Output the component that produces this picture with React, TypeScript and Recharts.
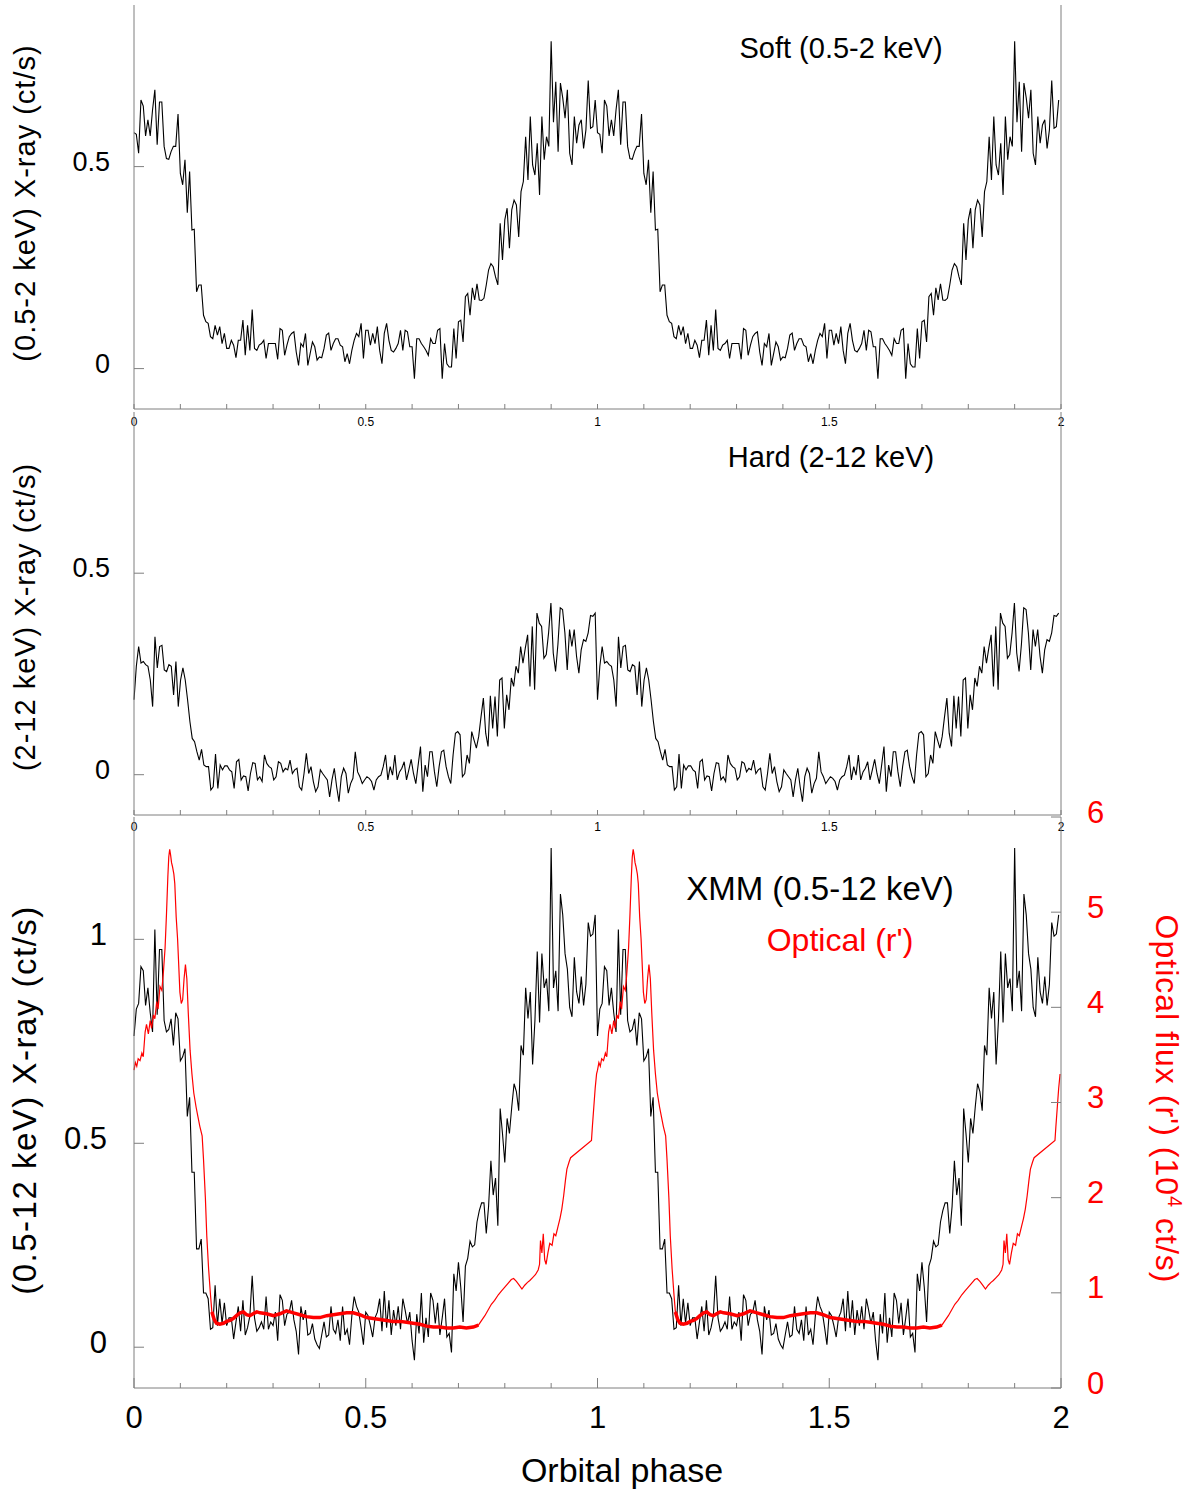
import React from "react";
import { LineChart, Line, XAxis, YAxis } from "recharts";

// orbital phase axis
const PHASE_TICKS = [0, 0.1, 0.2, 0.3, 0.4, 0.5, 0.6, 0.7, 0.8, 0.9, 1, 1.1, 1.2, 1.3, 1.4, 1.5, 1.6, 1.7, 1.8, 1.9, 2];
const PHASE_LABELS = [0, 0.5, 1, 1.5, 2];
const RATE_TICKS = [0, 0.5];
const XMM_TICKS = [0, 0.5, 1];
const OPT_TICKS = [0, 1, 2, 3, 4, 5, 6];

// one orbital cycle, evenly binned (ct/s)
const SOFT = [
  0.584, 0.58, 0.533, 0.665, 0.65, 0.576, 0.616, 0.576, 0.64, 0.69,
  0.554, 0.66, 0.66, 0.55, 0.52, 0.518, 0.537, 0.55, 0.55, 0.63,
  0.483, 0.455, 0.517, 0.386, 0.488, 0.343, 0.345, 0.19, 0.207, 0.207,
  0.132, 0.116, 0.112, 0.079, 0.074, 0.107, 0.083, 0.104, 0.062, 0.087,
  0.05, 0.05, 0.07, 0.058, 0.027, 0.07, 0.07, 0.12, 0.033, 0.107,
  0.045, 0.146, 0.05, 0.045, 0.058, 0.062, 0.07, 0.025, 0.062, 0.062,
  0.062, 0.062, 0.023, 0.099, 0.095, 0.033, 0.058, 0.079, 0.087, 0.091,
  0.041, 0.008, 0.062, 0.054, 0.087, 0.008, 0.037, 0.066, 0.054, 0.021,
  0.029, 0.027, 0.05, 0.083, 0.088, 0.045, 0.062, 0.074, 0.074, 0.058,
  0.054, 0.017, 0.037, 0.012, 0.045, 0.07, 0.087, 0.079, 0.112, 0.025,
  0.095, 0.095, 0.058, 0.087, 0.062, 0.104, 0.045, 0.012, 0.087, 0.112,
  0.07, 0.045, 0.041, 0.05, 0.062, 0.095, 0.045, 0.095, 0.091, 0.054,
  0.054, -0.025, 0.074, 0.074, 0.062, 0.054, 0.045, 0.033, 0.074, 0.062,
  0.062, 0.095, 0.099, -0.025, 0.062, 0.012, 0.004, 0.004, 0.099, 0.025,
  0.116, 0.12, 0.066, 0.178, 0.186, 0.132, 0.2, 0.17, 0.21, 0.17,
  0.169, 0.174, 0.207, 0.244, 0.26, 0.252, 0.227, 0.207, 0.36, 0.269,
  0.368, 0.397, 0.298, 0.393, 0.417, 0.405, 0.326, 0.438, 0.463, 0.574,
  0.467, 0.624, 0.504, 0.479, 0.558, 0.43, 0.624, 0.517, 0.574, 0.55,
  0.81, 0.61, 0.71, 0.537, 0.707, 0.67, 0.62, 0.69, 0.533, 0.504,
  0.624, 0.558, 0.603, 0.616, 0.545, 0.591, 0.713, 0.595, 0.599, 0.665,
];

const HARD = [
  0.186, 0.269, 0.318, 0.277, 0.281, 0.273, 0.269, 0.235, 0.169, 0.342,
  0.265, 0.318, 0.321, 0.26, 0.256, 0.273, 0.269, 0.198, 0.281, 0.169,
  0.235, 0.265, 0.235, 0.186, 0.132, 0.09, 0.082, 0.057, 0.036, 0.063,
  0.024, 0.02, 0.02, -0.038, -0.03, 0.051, -0.034, 0.024, 0.012, 0.022,
  0.022, 0.012, 0.007, -0.034, 0.032, 0.038, -0.013, -0.003, -0.005, -0.04,
  0.003, 0.03, 0.028, -0.013, -0.005, -0.017, 0.049, 0.028, 0.02, 0.016,
  -0.013, -0.005, 0.032, 0.028, 0.007, 0.016, 0.012, 0.036, 0.003, 0.012,
  0.016, -0.03, -0.038, 0.003, 0.053, 0.003, 0.02, -0.017, -0.042, -0.03,
  0.012, 0.003, -0.005, -0.013, -0.055, -0.013, 0.016, -0.03, -0.067, -0.005,
  0.016, 0.003, -0.046, -0.022, -0.009, 0.057, 0.007, -0.005, -0.022, -0.013,
  -0.005, -0.009, -0.017, -0.038, -0.013, -0.005, -0.001, 0.02, 0.049, -0.013,
  0.02, -0.001, 0.049, -0.013, 0.007, 0.016, 0.032, -0.013, 0.012, 0.038,
  0.003, -0.022, 0.024, 0.07, -0.042, 0.024, -0.005, 0.057, 0.057, 0.007,
  -0.03, 0.02, 0.057, 0.061, 0.02, -0.005, -0.022, 0.049, 0.103, 0.107,
  0.099, -0.005, 0.003, 0.049, 0.028, 0.107, 0.086, 0.066, 0.095, 0.144,
  0.19, 0.103, 0.07, 0.196, 0.115, 0.194, 0.095, 0.235, 0.24, 0.115,
  0.198, 0.161, 0.24, 0.219, 0.269, 0.252, 0.318, 0.277, 0.314, 0.347,
  0.219, 0.368, 0.211, 0.401, 0.376, 0.368, 0.289, 0.298, 0.352, 0.426,
  0.302, 0.256, 0.323, 0.414, 0.41, 0.352, 0.26, 0.36, 0.318, 0.36,
  0.294, 0.252, 0.31, 0.335, 0.331, 0.352, 0.395, 0.393, 0.401,
];

const XMM = [
  0.763, 0.829, 0.843, 0.933, 0.923, 0.838, 0.881, 0.82, 0.773, 1.024,
  0.815, 0.975, 0.975, 0.801, 0.773, 0.779, 0.805, 0.74, 0.82, 0.805,
  0.702, 0.712, 0.732, 0.566, 0.613, 0.429, 0.429, 0.241, 0.241, 0.265,
  0.133, 0.133, 0.119, 0.044, 0.048, 0.152, 0.053, 0.119, 0.058, 0.109,
  0.053, 0.072, 0.072, 0.02, 0.062, 0.1, 0.039, 0.115, 0.03, 0.048,
  0.077, 0.175, 0.072, 0.039, 0.048, 0.062, 0.044, 0.124, 0.044, 0.062,
  0.053, 0.086, 0.016, 0.129, 0.115, 0.053, 0.081, 0.086, 0.115, 0.067,
  0.039, -0.018, 0.1, 0.067, 0.091, 0.03, 0.034, 0.058, 0.02, 0.006,
  -0.003, 0.03, 0.062, 0.025, 0.03, 0.1, 0.044, 0.034, 0.067, 0.016,
  0.1, 0.03, 0.044, 0.006, 0.077, 0.124, 0.1, 0.086, 0.048, 0.006,
  0.086, 0.077, 0.053, 0.025, 0.072, 0.086, 0.119, 0.039, 0.138, 0.048,
  0.115, 0.03, 0.091, 0.053, 0.1, 0.044, 0.119, 0.091, 0.058, 0.086,
  0.016, -0.032, 0.081, 0.034, 0.133, 0.011, 0.072, 0.025, 0.133, 0.115,
  0.058, 0.109, 0.03, 0.072, 0.119, 0.025, 0.034, -0.013, 0.18, 0.138,
  0.208, 0.147, 0.062, 0.199, 0.218, 0.26, 0.246, 0.251, 0.307, 0.335,
  0.354, 0.354, 0.279, 0.345, 0.457, 0.373, 0.415, 0.298, 0.585, 0.524,
  0.453, 0.561, 0.524, 0.589, 0.646, 0.627, 0.58, 0.74, 0.716, 0.881,
  0.806, 0.871, 0.693, 0.801, 0.97, 0.796, 0.965, 0.881, 0.904, 0.824,
  1.224, 0.881, 0.923, 0.824, 1.111, 1.06, 0.965, 0.927, 0.833, 0.81,
  0.956, 0.871, 0.843, 0.909, 0.838, 0.89, 1.041, 1.008, 1.013, 1.06,
];

// optical r' light curve, one cycle (10^4 ct/s)
const OPT_PHASE = [
  0.0, 0.003, 0.006, 0.009, 0.013, 0.017, 0.02, 0.024, 0.027, 0.031,
  0.035, 0.038, 0.042, 0.045, 0.049, 0.052, 0.056, 0.06, 0.063, 0.067,
  0.07, 0.073, 0.075, 0.077, 0.079, 0.081, 0.083, 0.086, 0.088, 0.091,
  0.094, 0.096, 0.099, 0.102, 0.105, 0.108, 0.111, 0.114, 0.117, 0.121,
  0.125, 0.129, 0.134, 0.138, 0.142, 0.147, 0.15, 0.154, 0.157, 0.161,
  0.165, 0.168, 0.173, 0.178, 0.185, 0.193, 0.2, 0.207, 0.214, 0.221,
  0.229, 0.236, 0.243, 0.25, 0.257, 0.265, 0.272, 0.286, 0.301, 0.315,
  0.329, 0.344, 0.358, 0.372, 0.387, 0.401, 0.416, 0.43, 0.444, 0.459,
  0.473, 0.487, 0.502, 0.516, 0.531, 0.545, 0.559, 0.574, 0.588, 0.602,
  0.617, 0.631, 0.646, 0.66, 0.674, 0.689, 0.703, 0.717, 0.732, 0.743,
  0.75, 0.757, 0.764, 0.771, 0.778, 0.786, 0.793, 0.8, 0.807, 0.814,
  0.819, 0.825, 0.831, 0.837, 0.843, 0.849, 0.854, 0.86, 0.866, 0.872,
  0.875, 0.877, 0.88, 0.883, 0.886, 0.889, 0.893, 0.897, 0.902, 0.906,
  0.91, 0.915, 0.919, 0.923, 0.927, 0.931, 0.934, 0.939, 0.942, 0.987,
  0.989, 0.992, 0.995, 0.998,
];
const OPT_FLUX = [
  3.34, 3.42, 3.38, 3.46, 3.44, 3.52, 3.48, 3.74, 3.82, 3.72,
  3.86, 3.78, 3.92, 3.88, 4.06, 3.98, 4.22, 4.18, 4.34, 4.62,
  4.97, 5.37, 5.58, 5.66, 5.6, 5.52, 5.48, 5.4, 5.3, 4.95,
  4.72, 4.5, 4.16, 4.04, 4.08, 4.3, 4.45, 4.3, 3.95, 3.55,
  3.3, 3.1, 2.95, 2.85, 2.75, 2.65, 2.4, 2.0, 1.6, 1.25,
  0.98, 0.8, 0.72, 0.68, 0.67, 0.68, 0.7, 0.71, 0.73, 0.76,
  0.79, 0.8, 0.77, 0.76, 0.78, 0.8, 0.79, 0.78, 0.76, 0.78,
  0.81, 0.79, 0.77, 0.75, 0.74, 0.74, 0.76, 0.77, 0.78, 0.79,
  0.79, 0.77, 0.74, 0.73, 0.72, 0.71, 0.7, 0.7, 0.69, 0.68,
  0.67, 0.65, 0.64, 0.64, 0.63, 0.63, 0.64, 0.63, 0.64, 0.66,
  0.71, 0.76, 0.82, 0.88, 0.92, 0.98, 1.02, 1.06, 1.1, 1.14,
  1.15, 1.12, 1.08, 1.04, 1.08, 1.11, 1.13, 1.16, 1.19, 1.24,
  1.3, 1.55, 1.42, 1.62, 1.35, 1.3, 1.42, 1.52, 1.5, 1.62,
  1.6, 1.7, 1.78, 1.88, 2.02, 2.19, 2.3, 2.38, 2.42, 2.6,
  2.75, 2.95, 3.15, 3.3,
];

const FRAME = "#7f7f7f";
const RED = "#ff0000";
const FONT = '"Liberation Sans", Arial, Helvetica, sans-serif';

// the folded light curve is plotted twice, phase 0-2
function twoCycles(vals: number[]) {
  const n = vals.length;
  const rows: { phase: number; v: number }[] = [];
  for (let c = 0; c < 2; c++) vals.forEach((v, i) => rows.push({ phase: c + i / n, v }));
  return rows;
}

function opticalRows() {
  const rows: { phase: number; flux: number; band: number | null }[] = [];
  for (let c = 0; c < 2; c++)
    OPT_PHASE.forEach((p, i) =>
      rows.push({ phase: c + p, flux: OPT_FLUX[i], band: p >= 0.168 && p <= 0.743 ? OPT_FLUX[i] : null })
    );
  return rows;
}

const softData = twoCycles(SOFT);
const hardData = twoCycles(HARD);
const xmmData = twoCycles(XMM);
const optData = opticalRows();

// x ticks point into the plot; labels only at 0, 0.5, 1 ...
const xTick = (dir: number, major: number, minor: number, labelDy: number, labelSize: number) => (props: any) => {
  const { x, y, payload } = props;
  const lab = PHASE_LABELS.includes(payload.value);
  return (
    <g>
      <line x1={x} x2={x} y1={y} y2={y + dir * (lab ? major : minor)} stroke={FRAME} />
      {labelSize > 0 && lab ? (
        <text x={x} y={y + labelDy} textAnchor="middle" dominantBaseline="central" fontSize={labelSize} fontFamily={FONT} fill="#000">
          {payload.value}
        </text>
      ) : null}
    </g>
  );
};

const yTick = (side: "left" | "right", size: number, color: string, gap: number) => (props: any) => {
  const { x, y, payload } = props;
  const dir = side === "left" ? 1 : -1;
  return (
    <g>
      <line x1={x} x2={x + dir * 10} y1={y} y2={y} stroke={FRAME} />
      {size > 0 ? (
        <text
          x={x - dir * gap}
          y={y - 5}
          textAnchor={side === "left" ? "end" : "start"}
          dominantBaseline="central"
          fontSize={size}
          fontFamily={FONT}
          fill={color}
        >
          {payload.value}
        </text>
      ) : null}
    </g>
  );
};

const axisBase = { axisLine: { stroke: FRAME }, tickLine: false, tickSize: 0, tickMargin: 0, interval: 0 as const };

const Label = ({ x, y, size, color = "#000", rotate = 0, spacing = 0, children }: any) => (
  <div
    style={{
      position: "absolute",
      left: x,
      top: y,
      transform: `translate(-50%, -50%) rotate(${rotate}deg)`,
      fontSize: size,
      letterSpacing: spacing,
      color,
      whiteSpace: "nowrap",
      lineHeight: 1,
      fontFamily: FONT,
    }}
  >
    {children}
  </div>
);

const App = () => {
  return (
    <div style={{ position: "absolute", left: 0, top: 0, width: 1200, height: 1498, background: "#fff", fontFamily: FONT }}>
      {/* soft band */}
      <div style={{ position: "absolute", left: 0, top: 0 }}>
        <LineChart width={1200} height={440} margin={{ top: 5, right: 0, bottom: 0, left: 0 }}>
          <XAxis dataKey="phase" type="number" domain={[0, 2]} ticks={PHASE_TICKS} height={31} {...axisBase} tick={xTick(-1, 5, 5, 13, 12)} />
          <XAxis xAxisId="t" orientation="top" type="number" domain={[0, 2]} ticks={PHASE_TICKS} height={0} {...axisBase} tick={xTick(1, 5, 5, 0, 0)} />
          <YAxis type="number" domain={[-0.1, 0.9]} ticks={RATE_TICKS} width={134} {...axisBase} tick={yTick("left", 27, "#000", 24)} />
          <YAxis yAxisId="r" orientation="right" type="number" domain={[-0.1, 0.9]} ticks={RATE_TICKS} width={139} {...axisBase} tick={yTick("right", 0, "#000", 0)} />
          <Line data={softData} dataKey="v" type="linear" stroke="#000" strokeWidth={1.1} dot={false} activeDot={false} isAnimationActive={false} />
        </LineChart>
      </div>

      {/* hard band */}
      <div style={{ position: "absolute", left: 0, top: 400 }}>
        <LineChart width={1200} height={445} margin={{ top: 12, right: 0, bottom: 0, left: 0 }}>
          <XAxis dataKey="phase" type="number" domain={[0, 2]} ticks={PHASE_TICKS} height={30} {...axisBase} tick={xTick(-1, 5, 5, 12, 12)} />
          <XAxis xAxisId="t" orientation="top" type="number" domain={[0, 2]} ticks={PHASE_TICKS} height={0} {...axisBase} tick={xTick(1, 5, 5, 0, 0)} />
          <YAxis type="number" domain={[-0.1, 0.9]} ticks={RATE_TICKS} width={134} {...axisBase} tick={yTick("left", 27, "#000", 24)} />
          <YAxis yAxisId="r" orientation="right" type="number" domain={[-0.1, 0.9]} ticks={RATE_TICKS} width={139} {...axisBase} tick={yTick("right", 0, "#000", 0)} />
          <Line data={hardData} dataKey="v" type="linear" stroke="#000" strokeWidth={1.1} dot={false} activeDot={false} isAnimationActive={false} />
        </LineChart>
      </div>

      {/* XMM full band + optical */}
      <div style={{ position: "absolute", left: 0, top: 780 }}>
        <LineChart width={1200} height={718} margin={{ top: 37, right: 0, bottom: 0, left: 0 }}>
          <XAxis dataKey="phase" type="number" domain={[0, 2]} ticks={PHASE_TICKS} height={110} {...axisBase} tick={xTick(-1, 10, 5, 29, 31)} />
          <XAxis xAxisId="t" orientation="top" type="number" domain={[0, 2]} ticks={PHASE_TICKS} height={0} {...axisBase} tick={xTick(1, 5, 5, 0, 0)} />
          <YAxis type="number" domain={[-0.1, 1.3]} ticks={XMM_TICKS} width={134} {...axisBase} tick={yTick("left", 31, "#000", 27)} />
          <YAxis yAxisId="r" orientation="right" type="number" domain={[0, 6]} ticks={OPT_TICKS} width={139} {...axisBase} tick={yTick("right", 31, RED, 26)} />
          <Line data={xmmData} dataKey="v" type="linear" stroke="#000" strokeWidth={1.1} dot={false} activeDot={false} isAnimationActive={false} />
          <Line data={optData} yAxisId="r" dataKey="flux" type="linear" stroke={RED} strokeWidth={1.2} dot={false} activeDot={false} isAnimationActive={false} />
          <Line data={optData} yAxisId="r" dataKey="band" type="linear" stroke={RED} strokeWidth={3.5} dot={false} activeDot={false} isAnimationActive={false} />
        </LineChart>
      </div>

      <Label x={25} y={203} size={29} spacing={1} rotate={-90}>(0.5-2 keV) X-ray (ct/s)</Label>
      <Label x={25} y={617} size={29} spacing={1} rotate={-90}>(2-12 keV) X-ray (ct/s)</Label>
      <Label x={24} y={1100} size={33} spacing={1.5} rotate={-90}>(0.5-12 keV) X-ray (ct/s)</Label>
      <Label x={1168} y={1099} size={32} spacing={1} rotate={90} color={RED}>
        Optical flux (r') (10<sup style={{ fontSize: 20 }}>4</sup> ct/s)
      </Label>

      <Label x={841} y={48} size={29}>Soft (0.5-2 keV)</Label>
      <Label x={831} y={457} size={29}>Hard (2-12 keV)</Label>
      <Label x={820} y={888} size={33}>XMM (0.5-12 keV)</Label>
      <Label x={840} y={940} size={32} color={RED}>Optical (r')</Label>
      <Label x={622} y={1470} size={34}>Orbital phase</Label>
    </div>
  );
};

export default App;
